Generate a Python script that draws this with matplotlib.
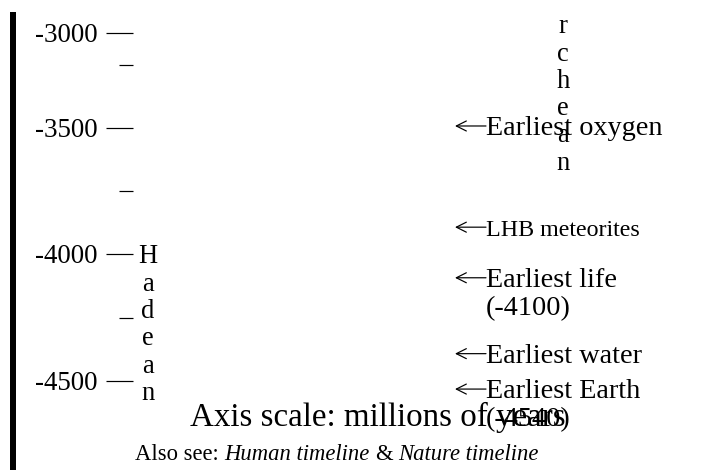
import matplotlib
matplotlib.use("Agg")
import matplotlib.pyplot as plt
from matplotlib.transforms import offset_copy

plt.rcParams['font.family'] = ['Liberation Serif', 'DejaVu Serif']

# timeline data (millions of years)
major_ticks = [-3000, -3500, -4000, -4500]
minor_ticks = [-3250, -3750, -4250]
eon_names = ['Archean', 'Hadean']
eon_starts = [-2500, -4000]
event_names = ['Earliest oxygen', 'LHB meteorites', 'Earliest life',
               'Earliest water', 'Earliest Earth']
event_years = [-3500, -3900, -4100, -4400, -4540]
event_notes = ['', '', '(-4100)', '', '(-4540)']

W, H = 728, 470
fig = plt.figure(figsize=(W / 100, H / 100), dpi=100)
top_px = 12
ax = fig.add_axes([0, 0, 1, (H - top_px) / H])
ax.set_xlim(0, W)
ax.set_ylim(-4852, -3041.5)
ax.axis('off')
ylo, yhi = ax.get_ylim()
ma_per_px = (yhi - ylo) / (H - top_px)


def pt(p):
    return p * 0.72


def shifted(dy):
    # move by dy pixels (positive = down)
    return offset_copy(ax.transData, fig=fig, x=0, y=-dy, units='dots')


# left bar
ax.axvline(13, color='black', lw=pt(6))

# scale ticks and labels
clamp = yhi - 21 * ma_per_px
for v in major_ticks:
    y = min(v, clamp)
    ax.hlines(y, 106, 133, color='black', lw=pt(1.2))
    ax.text(98, y, str(v), ha='right', va='baseline', fontsize=pt(27),
            transform=shifted(9))
for v in minor_ticks:
    ax.hlines(v, 119, 133, color='black', lw=pt(1.2))

# eon names written downwards, one letter per line
eon_x = [563, 148]
for name, start, x in zip(eon_names, eon_starts, eon_x):
    if start > yhi:
        y, first = yhi, -6
    else:
        y, first = start, 9
    for i, ch in enumerate(name):
        ax.text(x, y, ch, ha='center', va='baseline', fontsize=pt(26.5),
                transform=shifted(first + 27.3 * i), clip_on=True)

# events
for name, yr, note in zip(event_names, event_years, event_notes):
    size = pt(24) if name.startswith('LHB') else pt(28.3)
    ax.annotate('', xy=(455, yr), xytext=(486, yr),
                xycoords=shifted(-2), textcoords=shifted(-2),
                arrowprops=dict(arrowstyle='->,head_length=0.36,head_width=0.18',
                                lw=pt(1.2), color='black', shrinkA=0, shrinkB=0,
                                mutation_scale=20))
    ax.text(486, yr, name, ha='left', va='baseline', fontsize=size,
            transform=shifted(7))
    if note:
        ax.text(486, yr, note, ha='left', va='baseline', fontsize=pt(28.3),
                transform=shifted(35))

fig.text(190 / W, 1 - 426 / H, 'Axis scale: millions of years',
         ha='left', va='baseline', fontsize=pt(33))

# "Also see" line with mixed styles
renderer = fig.canvas.get_renderer()
x = 135
size_px = 22.6
parts = [('Also see:', 'normal'), ('Human timeline', 'italic'),
         ('&', 'normal'), ('Nature timeline', 'italic')]
for txt, style in parts:
    t = fig.text(x / W, 1 - 460 / H, txt, ha='left', va='baseline',
                 fontsize=pt(size_px), style=style)
    x = t.get_window_extent(renderer).x1 + 0.25 * size_px

fig.savefig('out.png', dpi=100)
